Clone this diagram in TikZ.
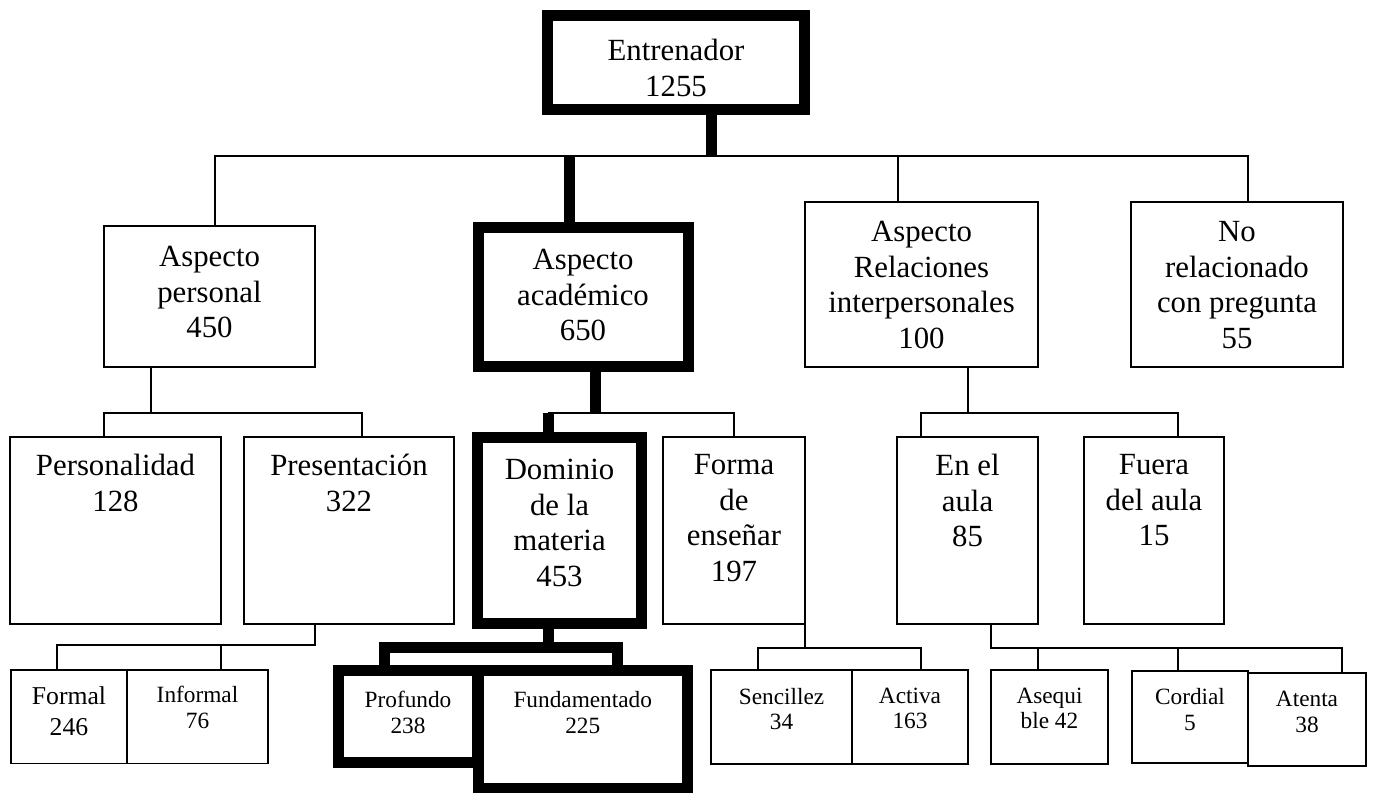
\documentclass[tikz,border=0pt]{standalone}
\usepackage{fontspec}
\setmainfont{Liberation Serif}
\usetikzlibrary{positioning,calc}

\begin{document}
\begin{tikzpicture}[x=0.5pt, y=-0.5pt,
    caja/.style={rectangle, draw=black, line width=0.75pt, fill=white,
        inner sep=0pt, outer sep=0pt},
    cajagruesa/.style={caja, line width=5.5pt},
    texto/.style={align=center, inner sep=0pt, text=black,
        font=\fontsize{15.4}{17.75}\selectfont},
    textochico/.style={texto, font=\fontsize{11.65}{12.75}\selectfont},
    textoformal/.style={texto, font=\fontsize{12.85}{15.5}\selectfont},
    fina/.style={draw=black, line width=0.7pt},
    gruesa/.style={draw=black, line width=5.5pt}]

\useasboundingbox (0,0) rectangle (1375,792);

% cajas
\node (Entren) [cajagruesa, minimum width=128.5pt, minimum height=47pt] at (676,63) {};

\node (Personal) [caja, minimum width=105.5pt, minimum height=70.5pt] at (209.5,296.5) {};
\node (Academico) [cajagruesa, minimum width=105pt, minimum height=69.5pt] at (583,296.5) {};
\node (Relaciones) [caja, minimum width=116.5pt, minimum height=82.5pt] at (921.5,284.5) {};
\node (NoRel) [caja, minimum width=106pt, minimum height=82.5pt] at (1237,284.5) {};

\node (Personalidad) [caja, minimum width=105.5pt, minimum height=93.5pt] at (115.5,530.5) {};
\node (Presentacion) [caja, minimum width=105pt, minimum height=93.5pt] at (349,530.5) {};
\node (Dominio) [cajagruesa, minimum width=82pt, minimum height=93.25pt] at (559.5,530.25) {};
\node (Forma) [caja, minimum width=71pt, minimum height=93.5pt] at (734,530.5) {};
\node (EnAula) [caja, minimum width=70.5pt, minimum height=93.5pt] at (967.5,530.5) {};
\node (Fuera) [caja, minimum width=70pt, minimum height=93.5pt] at (1154,530.5) {};

\node (Formal) [caja, minimum width=58pt, minimum height=46.75pt] at (69,716.75) {};
\node (Informal) [caja, minimum width=70.5pt, minimum height=46.75pt] at (197.5,716.75) {};
\node (Profundo) [cajagruesa, minimum width=69.5pt, minimum height=46.25pt] at (408,716.25) {};
\node (Fundamentado) [cajagruesa, minimum width=104.75pt, minimum height=59pt] at (582.75,729) {};
\node (Sencillez) [caja, minimum width=70.5pt, minimum height=47pt] at (781.5,717) {};
\node (Activa) [caja, minimum width=58pt, minimum height=47pt] at (910,717) {};
\node (Asequible) [caja, minimum width=58.5pt, minimum height=47pt] at (1049.5,717) {};
\node (Cordial) [caja, minimum width=58pt, minimum height=46pt] at (1190,717) {};
\node (Atenta) [caja, minimum width=59pt, minimum height=46.5pt] at (1307,719.5) {};

% textos
\node (tEntren) [texto, below=11.5pt of Entren.north] {Entrenador\\1255};
\node (tPersonal) [texto, below=10pt of Personal.north] {Aspecto\\personal\\450};
\node (tAcademico) [texto, below=11pt of Academico.north] {Aspecto\\académico\\650};
\node (tRelaciones) [texto, below=9.5pt of Relaciones.north] {Aspecto\\Relaciones\\interpersonales\\100};
\node (tNoRel) [texto, below=9.5pt of NoRel.north] {No\\relacionado\\con pregunta\\55};
\node (tPersonalidad) [texto, below=8.5pt of Personalidad.north] {Personalidad\\128};
\node (tPresentacion) [texto, below=8.5pt of Presentacion.north] {Presentación\\322};
\node (tDominio) [texto, below=11pt of Dominio.north] {Dominio\\de la\\materia\\453};
\node (tForma) [texto, below=8.5pt of Forma.north] {Forma\\de\\enseñar\\197};
\node (tEnAula) [texto, below=8.5pt of EnAula.north] {En el\\aula\\85};
\node (tFuera) [texto, below=8.5pt of Fuera.north] {Fuera\\del aula\\15};
\node (tFormal) [textoformal, below=8.2pt of Formal.north] {Formal\\246};
\node (tInformal) [textochico, below=8pt of Informal.north] {Informal\\76};
\node (tProfundo) [textochico, below=10.5pt of Profundo.north] {Profundo\\238};
\node (tFundamentado) [textochico, below=10.5pt of Fundamentado.north] {Fundamentado\\225};
\node (tSencillez) [textochico, below=8.75pt of Sencillez.north] {Sencillez\\34};
\node (tActiva) [textochico, below=8.75pt of Activa.north] {Activa\\163};
\node (tAsequible) [textochico, below=8.75pt of Asequible.north] {Asequi\\ble 42};
\node (tCordial) [textochico, below=8.5pt of Cordial.north] {Cordial\\5};
\node (tAtenta) [textochico, below=9pt of Atenta.north] {Atenta\\38};

% conectores nivel 1
\draw[gruesa] (Entren.south) ++(35.5,0) -- ++(0,46);
\draw[fina] ($(Personal.north)+(5.5,0)$) |- ($(NoRel.north)+(11,-46)$) -- ++(0,46);
\draw[gruesa] ($(Academico.north)+(-14,0)$) -- ++(0,-71);
\draw[fina] ($(Relaciones.north)+(-23.5,0)$) -- ++(0,-46);

% conectores nivel 2
\draw[fina] ($(Personal.south)+(-58.5,0)$) -- ++(0,46);
\draw[fina] ($(Personalidad.north)+(-11.5,0)$) -- ++(0,-24) -| ($(Presentacion.north)+(13,0)$);
\draw[gruesa] ($(Academico.south)+(12,0)$) -- ++(0,47);
\draw[fina] ($(Dominio.north)+(-11.5,-24)$) -| (Forma.north);
\draw[gruesa] ($(Dominio.north)+(-11.5,0)$) -- ++(0,-24);
\draw[fina] ($(Relaciones.south)+(46.5,0)$) -- ++(0,46);
\draw[fina] ($(EnAula.north)+(-46.5,0)$) -- ++(0,-24) -| ($(Fuera.north)+(24,0)$);

% conectores nivel 3
\draw[fina] ($(Formal.north)+(-12,0)$) |- ($(Presentacion.south)+(-34,21)$) -- ++(0,-21);
\draw[fina] ($(Informal.north)+(23.5,0)$) -- ++(0,-25);
\draw[gruesa] ($(Dominio.south)+(-11.5,0)$) -- ++(0,24);
\draw[gruesa] ($(Profundo.north)+(-23.5,0)$) -- ++(0,-22.5) -| ($(Fundamentado.north)+(35,0)$);
\draw[fina] (Forma.south east) -- ++(0,24);
\draw[fina] ($(Sencillez.north)+(-23.5,0)$) -- ++(0,-22) -| ($(Activa.north)+(11,0)$);
\draw[fina] ($(EnAula.south)+(23.5,0)$) |- ($(Atenta.north)+(35,-25)$) -- ++(0,25);
\draw[fina] ($(Asequible.north)+(-11.5,0)$) -- ++(0,-22);
\draw[fina] ($(Cordial.north)+(-12,0)$) -- ++(0,-23);

\end{tikzpicture}
\end{document}
